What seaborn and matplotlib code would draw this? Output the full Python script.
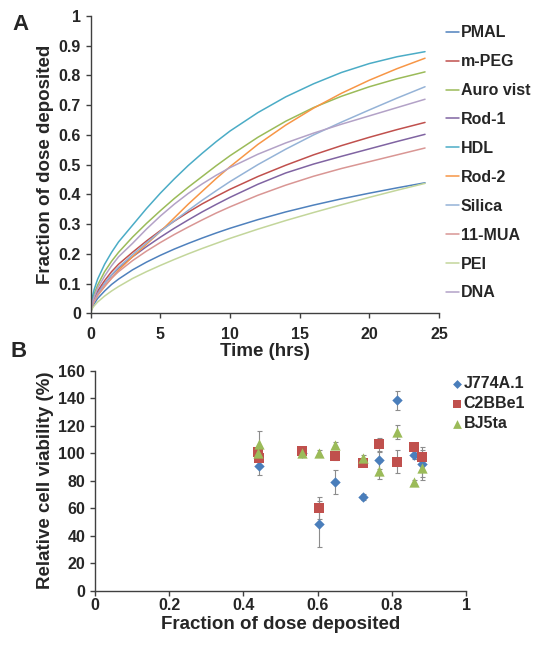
import numpy as np
import pandas as pd
import seaborn as sns
import matplotlib.pyplot as plt

# panel A: fraction of dose deposited vs time
time_hrs = [0, 0.1, 0.25, 0.5, 1, 1.5, 2, 3, 4, 5, 6, 7, 8, 9, 10, 12, 14, 16, 18, 20, 22, 24]
particles = ['PMAL', 'm-PEG', 'Auro vist', 'Rod-1', 'HDL', 'Rod-2', 'Silica', '11-MUA', 'PEI', 'DNA']
pmal = [0, 0.02, 0.032, 0.05, 0.075, 0.097, 0.115, 0.146, 0.172, 0.195, 0.216, 0.235, 0.253,
        0.27, 0.286, 0.315, 0.341, 0.364, 0.385, 0.404, 0.422, 0.439]
m_peg = [0, 0.03, 0.05, 0.075, 0.11, 0.14, 0.165, 0.205, 0.243, 0.278, 0.31, 0.34, 0.368,
         0.393, 0.417, 0.46, 0.498, 0.533, 0.564, 0.592, 0.618, 0.642]
auro_vist = [0, 0.04, 0.065, 0.095, 0.14, 0.175, 0.205, 0.256, 0.302, 0.345, 0.386, 0.424, 0.46,
             0.496, 0.53, 0.592, 0.646, 0.692, 0.73, 0.762, 0.789, 0.812]
rod_1 = [0, 0.028, 0.045, 0.068, 0.1, 0.128, 0.152, 0.19, 0.224, 0.256, 0.286, 0.314, 0.341,
         0.366, 0.39, 0.434, 0.472, 0.502, 0.528, 0.553, 0.578, 0.602]
hdl = [0, 0.05, 0.08, 0.115, 0.165, 0.205, 0.24, 0.296, 0.352, 0.404, 0.452, 0.497, 0.538,
       0.577, 0.613, 0.675, 0.728, 0.772, 0.81, 0.84, 0.863, 0.88]
rod_2 = [0, 0.025, 0.04, 0.06, 0.09, 0.118, 0.145, 0.19, 0.232, 0.275, 0.321, 0.367, 0.41,
         0.453, 0.493, 0.568, 0.633, 0.69, 0.74, 0.784, 0.823, 0.858]
silica = [0, 0.025, 0.04, 0.065, 0.1, 0.13, 0.155, 0.197, 0.237, 0.275, 0.311, 0.346, 0.38,
          0.412, 0.443, 0.5, 0.552, 0.6, 0.643, 0.684, 0.724, 0.762]
mua_11 = [0, 0.025, 0.04, 0.062, 0.092, 0.118, 0.14, 0.177, 0.209, 0.238, 0.265, 0.29, 0.314,
          0.337, 0.358, 0.397, 0.431, 0.461, 0.487, 0.51, 0.533, 0.556]
pei = [0, 0.015, 0.025, 0.038, 0.058, 0.075, 0.09, 0.117, 0.14, 0.161, 0.181, 0.2, 0.218,
       0.235, 0.252, 0.283, 0.312, 0.339, 0.365, 0.39, 0.414, 0.437]
dna = [0, 0.035, 0.055, 0.085, 0.125, 0.16, 0.19, 0.235, 0.283, 0.327, 0.367, 0.403, 0.435,
       0.464, 0.49, 0.535, 0.573, 0.606, 0.636, 0.664, 0.692, 0.72]
line_colors = ['#4F81BD', '#C0504D', '#9BBB59', '#8064A2', '#4BACC6',
               '#F79646', '#95B3D7', '#D99694', '#C3D69B', '#B3A2C7']

# panel B: viability vs fraction deposited at 24 h
deposited = [0.438, 0.443, 0.558, 0.604, 0.646, 0.722, 0.765, 0.814, 0.859, 0.881]
cell_lines = ['J774A.1', 'C2BBe1', 'BJ5ta']
j774 = [99, 91, 100, 48.5, 79, 68, 94.8, 138.4, 98.9, 92.4]
j774_err = [3, 7, 3, 17, 9, 2, 6, 7, 3, 12]
c2bbe1 = [101, 96.7, 101.3, 59.9, 97.7, 93.1, 106.4, 93.8, 104.5, 97.2]
c2bbe1_err = [3, 3, 3, 8, 3, 2, 5, 8.5, 2, 5]
bj5ta = [99.9, 107, 100.4, 100.4, 106.2, 96.7, 87.3, 115.6, 78.8, 89.4]
bj5ta_err = [3, 9, 3, 2, 2, 2, 6, 5, 2, 7]
cell_colors = ['#4A7EBB', '#C0504D', '#9BBB59']
cell_markers = ['D', 's', '^']
cell_sizes = [28, 52, 55]


def build_frames():
    curves = [pmal, m_peg, auro_vist, rod_1, hdl, rod_2, silica, mua_11, pei, dna]
    rows = []
    for name, vals in zip(particles, curves):
        for t, v in zip(time_hrs, vals):
            rows.append({'time': t, 'fraction': v, 'particle': name})
    dep_df = pd.DataFrame(rows)

    rows = []
    for name, vals, errs in zip(cell_lines, [j774, c2bbe1, bj5ta], [j774_err, c2bbe1_err, bj5ta_err]):
        for x, v, e in zip(deposited, vals, errs):
            rows.append({'deposited': x, 'viability': v, 'err': e, 'cell': name})
    via_df = pd.DataFrame(rows)
    return dep_df, via_df


def style_axis(ax):
    ax.spines['top'].set_visible(False)
    ax.spines['right'].set_visible(False)
    for s in ['left', 'bottom']:
        ax.spines[s].set_color('#404040')
        ax.spines[s].set_linewidth(1.0)
    ax.tick_params(direction='out', length=3.6, width=1.0, color='#404040', labelsize=11.5)
    for lab in ax.get_xticklabels() + ax.get_yticklabels():
        lab.set_fontweight('bold')


def main():
    dep_df, via_df = build_frames()

    sns.set_style('ticks')
    plt.rcParams['font.family'] = ['Liberation Sans', 'DejaVu Sans']
    plt.rcParams['font.weight'] = 'bold'

    fig = plt.figure(figsize=(5.42, 6.5), dpi=100)

    # ---- panel A
    ax_a = fig.add_axes([0.1673, 0.518, 0.6426, 0.4574])
    sns.lineplot(data=dep_df, x='time', y='fraction', hue='particle', hue_order=particles,
                 palette=line_colors, linewidth=1.1, ax=ax_a)
    ax_a.set_xlim(0, 25)
    ax_a.set_ylim(0, 1)
    ax_a.set_xticks(range(0, 26, 5))
    ax_a.set_yticks(np.arange(0, 1.01, 0.1))
    ax_a.set_yticklabels(['0'] + [f'{v:.1f}' for v in np.arange(0.1, 0.95, 0.1)] + ['1'])
    ax_a.set_xlabel('Time (hrs)', fontsize=13.5, fontweight='bold', labelpad=1)
    ax_a.set_ylabel('Fraction of dose deposited', fontsize=13.5, fontweight='bold', labelpad=3)
    style_axis(ax_a)
    ax_a.tick_params(axis='x', pad=6)
    handles, labels = ax_a.get_legend_handles_labels()
    ax_a.legend(handles, labels, loc='upper left', bbox_to_anchor=(440 / 542, 1 - 19 / 650),
                bbox_transform=fig.transFigure, frameon=False, handlelength=0.8,
                handletextpad=0.1, labelspacing=0.87, borderaxespad=0,
                prop={'size': 11.5, 'weight': 'bold'})

    # ---- panel B
    ax_b = fig.add_axes([0.1753, 0.0912, 0.6845, 0.3385])
    for name, color in zip(cell_lines, cell_colors):
        sub = via_df[via_df['cell'] == name]
        ax_b.errorbar(sub['deposited'], sub['viability'], yerr=sub['err'], fmt='none',
                      ecolor='#8C8C8C', elinewidth=0.8, capsize=1.8, capthick=0.8, zorder=1)
    for name, color, marker, size in zip(cell_lines, cell_colors, cell_markers, cell_sizes):
        sub = via_df[via_df['cell'] == name]
        sns.scatterplot(data=sub, x='deposited', y='viability', color=color, marker=marker,
                        s=size, linewidth=0, zorder=3, label=name, ax=ax_b)
    ax_b.set_xlim(0, 1)
    ax_b.set_ylim(0, 160)
    ax_b.set_xticks(np.arange(0, 1.01, 0.2))
    ax_b.set_xticklabels(['0', '0.2', '0.4', '0.6', '0.8', '1'])
    ax_b.set_yticks(range(0, 161, 20))
    ax_b.set_xlabel('Fraction of dose deposited', fontsize=13.5, fontweight='bold', labelpad=2)
    ax_b.set_ylabel('Relative cell viability (%)', fontsize=13.5, fontweight='bold', labelpad=3)
    style_axis(ax_b)
    ax_b.tick_params(axis='x', pad=2)
    handles, labels = ax_b.get_legend_handles_labels()
    ax_b.legend(handles, labels, loc='upper left', bbox_to_anchor=(446 / 542, 1 - 370 / 650),
                bbox_transform=fig.transFigure, frameon=False, handlelength=0.6,
                handletextpad=0.1, labelspacing=0.3, borderaxespad=0, markerscale=0.85,
                prop={'size': 11.5, 'weight': 'bold'})

    fig.text(12 / 542, 1 - 30 / 650, 'A', fontsize=16, fontweight='bold')
    fig.text(10 / 542, 1 - 357 / 650, 'B', fontsize=16, fontweight='bold')

    fig.savefig('out.png', dpi=100)


if __name__ == '__main__':
    main()
